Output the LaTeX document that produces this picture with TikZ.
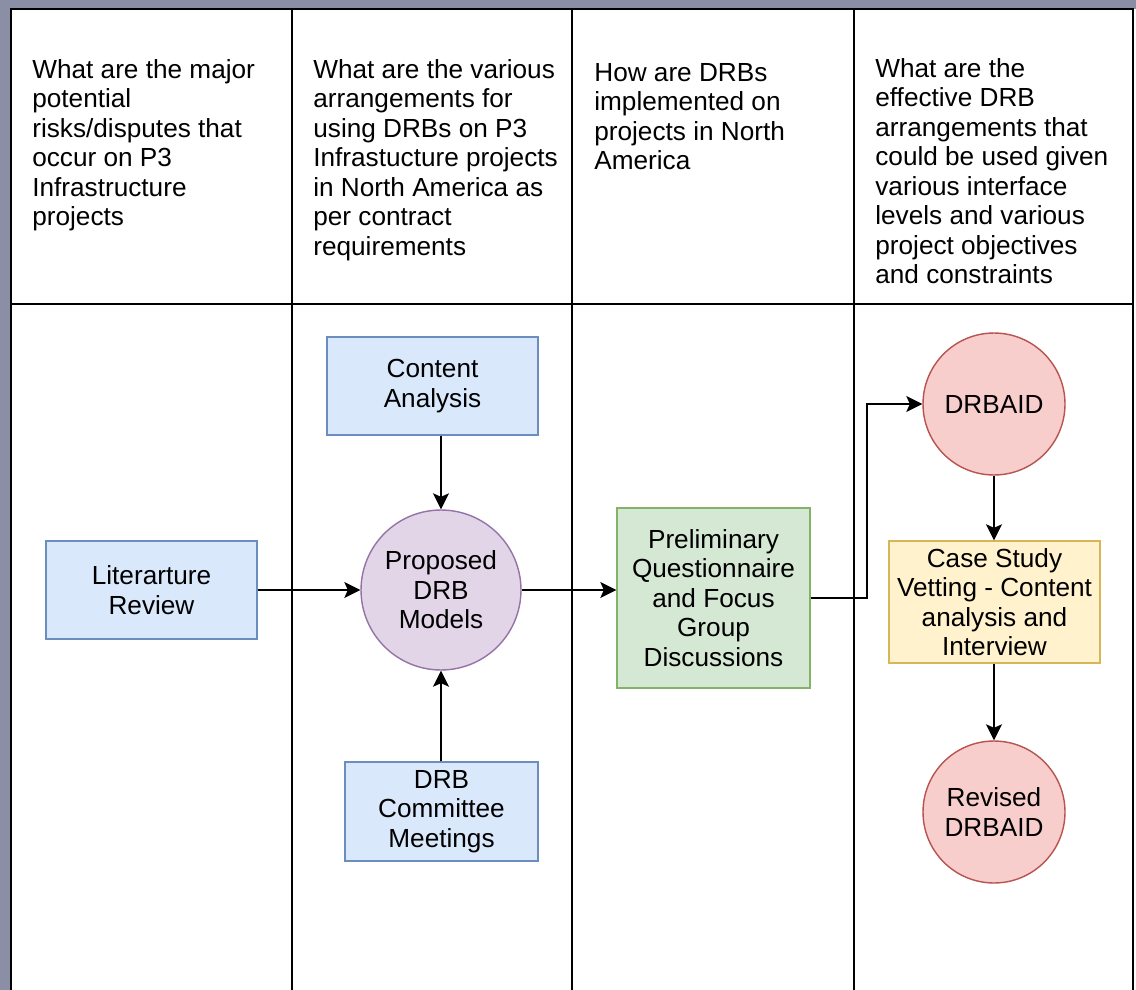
\documentclass[tikz,border=0pt]{standalone}
\usepackage{fontspec}
\setmainfont{Liberation Sans}
\usepackage{xcolor}
\usetikzlibrary{arrows.meta}
\usetikzlibrary{positioning}
\definecolor{bluefill}{HTML}{DAE8FC}
\definecolor{bluedraw}{HTML}{6C8EBF}
\definecolor{greenfill}{HTML}{D5E8D4}
\definecolor{greendraw}{HTML}{82B366}
\definecolor{yellowfill}{HTML}{FFF2CC}
\definecolor{yellowdraw}{HTML}{D6B656}
\definecolor{redfill}{HTML}{F8CECC}
\definecolor{reddraw}{HTML}{B85450}
\definecolor{purplefill}{HTML}{E1D5E7}
\definecolor{purpledraw}{HTML}{9673A6}
\definecolor{backdrop}{HTML}{8A8FA6}
\tikzset{
  bluebox/.style={%
    draw=bluedraw,
    fill=bluefill,
    rectangle,
    line width=0.8pt,
    inner sep=0,
    align=center,
  },
  greenbox/.style={bluebox, draw=greendraw, fill=greenfill},
  yellowbox/.style={bluebox, draw=yellowdraw, fill=yellowfill},
  redcirc/.style={%
    draw=reddraw,
    fill=redfill,
    circle,
    line width=0.8pt,
    inner sep=0,
    align=center,
    minimum size=2.84cm,
  },
  purplecirc/.style={redcirc, draw=purpledraw, fill=purplefill, minimum size=3.2cm},
  question/.style={anchor=north west, inner sep=0, align=left},
  flow/.style={black, line width=0.85pt, -{Stealth[length=0.32cm, width=0.32cm, inset=0.07cm]}},
  grid/.style={black, line width=1.1pt},
}

\begin{document}
\begin{tikzpicture}[x=0.02cm, y=-0.02cm,
    font=\fontsize{14.9pt}{16.8pt}\selectfont]
    \useasboundingbox (0,0) rectangle (1136,990);
    % screenshot backdrop and table
    \fill [backdrop] (0,0) rectangle (1136,990);
    \fill [white] (11,9) rectangle (1136,990);
    \draw [grid] (11,1000) -- (11,9) -- (1133,9) -- (1133,1000);
    \draw [grid] (11,304) -- (1133,304);
    \foreach \x in {292,572,854}
        \draw [grid] (\x,9) -- (\x,1000);

    % column questions
    \node (q1) [question] at (32,59) {What are the major\\potential\\risks/disputes that\\occur on P3\\Infrastructure\\projects};
    \node (q2) [question] at (313,59) {What are the various\\arrangements for\\using DRBs on P3\\Infrastucture projects\\in North America as\\per contract\\requirements};
    \node (q3) [question] at (594,63) {How are DRBs\\implemented on\\projects in North\\America};
    \node (q4) [question] at (875,58) {What are the\\effective DRB\\arrangements that\\could be used given\\various interface\\levels and various\\project objectives\\and constraints};

    % process
    \node (lit) [bluebox, minimum width=4.22cm, minimum height=1.96cm] at (151.5,590) {Literarture\\Review};
    \node (prop) [purplecirc] at (441,590) {Proposed\\DRB\\Models};
    \node (ca) [bluebox, minimum width=4.22cm, minimum height=1.96cm] at (432.5,386) {Content\\Analysis};
    \node (comm) [bluebox, minimum width=3.86cm, minimum height=1.98cm] at (441.5,811.5) {DRB\\Committee\\Meetings};
    \node (prelim) [greenbox, minimum width=3.86cm, minimum height=3.6cm] at (713.5,598) {Preliminary\\Questionnaire\\and Focus\\Group\\Discussions};
    \node (drbaid) [redcirc] at (994,404) {DRBAID};
    \node (vet) [yellowbox, minimum width=4.22cm, minimum height=2.44cm] at (994.5,602) {Case Study\\Vetting - Content\\analysis and\\Interview};
    \node (rev) [redcirc] at (994,812) {Revised\\DRBAID};
    \coordinate (bend) at (867,404);

    \draw [flow] (lit) -- (prop);
    \draw [flow] (prop |- ca.south) -- (prop.north);
    \draw [flow] (prop |- comm.north) -- (prop.south);
    \draw [flow] (prop.east) -- (prelim.west |- prop);
    \draw [flow] (prelim.east) -| (bend) -- (drbaid.west);
    \draw [flow] (drbaid) -- (drbaid |- vet.north);
    \draw [flow] (drbaid |- vet.south) -- (rev);
\end{tikzpicture}
\end{document}
